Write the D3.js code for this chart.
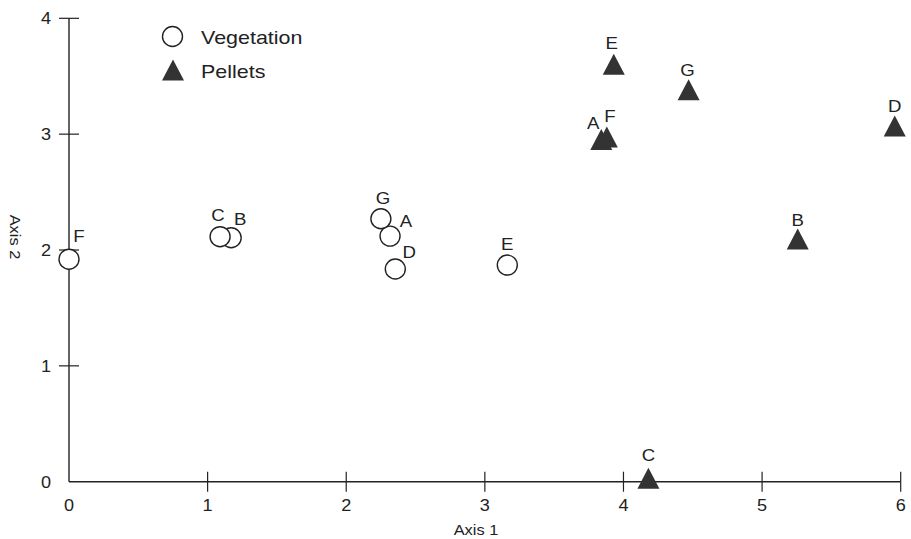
<!DOCTYPE html>
<html><head><meta charset="utf-8">
<script src="https://cdn.jsdelivr.net/npm/d3@7"></script>
<style>
body{margin:0;background:#fff;}
text{font-family:"Liberation Sans",Arial,sans-serif;fill:#222;}
</style></head>
<body><svg id="c" width="911" height="539"></svg>
<script>
const vegLabels = ["A","B","C","D","E","F","G"];
const vegX = [2.316, 1.17, 1.09, 2.354, 3.162, 0.0, 2.25];
const vegY = [2.12, 2.106, 2.115, 1.836, 1.87, 1.92, 2.27];
const pelLabels = ["A","B","C","D","E","F","G"];
const pelX = [3.84, 5.257, 4.18, 5.957, 3.93, 3.88, 4.47];
const pelY = [2.954, 2.095, 0.03, 3.07, 3.604, 2.975, 3.383];
const xTicks = [0,1,2,3,4,5,6];
const yTicks = [0,1,2,3,4];
const seriesNames = ["Vegetation","Pellets"];

// label offsets (layout): label centre relative to marker centre
const vegOff = {A:[16,-15],B:[9,-19],C:[-2,-22],D:[14,-17],E:[0,-21],F:[10,-23],G:[2,-21]};
const pelOff = {A:[-8,-16],B:[0,-19],C:[0,-23],D:[0,-20],E:[-2,-21],F:[3,-21],G:[-1,-20]};

const svg = d3.select("#c");
const x = d3.scaleLinear().domain([0,6]).range([69,900.7]);
const y = d3.scaleLinear().domain([0,4]).range([481.7,18.3]);
const ink = "#222";
const SX = 1.13;

function stext(sel, tx, ty, size, anchor, rot){
  return sel.attr("transform",(d,i)=>`translate(${tx(d,i)},${ty(d,i)})${rot?` rotate(${rot})`:""} scale(${SX},1)`)
    .attr("font-size",size).attr("text-anchor",anchor||"middle");
}

// axes
const gx = svg.append("g");
gx.append("line").attr("x1",x(0)).attr("x2",x(6)).attr("y1",y(0)).attr("y2",y(0)).attr("stroke",ink).attr("stroke-width",1.4);
gx.selectAll("line.t").data(xTicks.filter(d=>d>0)).join("line").attr("class","t")
  .attr("x1",d=>x(d)).attr("x2",d=>x(d)).attr("y1",y(0)-10).attr("y2",y(0)+10).attr("stroke",ink).attr("stroke-width",1.2);
stext(gx.selectAll("text").data(xTicks).join("text"), d=>x(d), ()=>y(0)+29.3, 16).text(d=>d);

const gy = svg.append("g");
gy.append("line").attr("x1",x(0)).attr("x2",x(0)).attr("y1",y(0)).attr("y2",y(4)).attr("stroke",ink).attr("stroke-width",1.4);
gy.selectAll("line.t").data(yTicks.filter(d=>d>0)).join("line").attr("class","t")
  .attr("y1",d=>y(d)).attr("y2",d=>y(d)).attr("x1",x(0)-10).attr("x2",x(0)+10).attr("stroke",ink).attr("stroke-width",1.2);
stext(gy.selectAll("text").data(yTicks).join("text"), ()=>x(0)-18, d=>y(d)+6, 16, "end").text(d=>d);

stext(svg.append("text").datum(0), ()=>476, ()=>535, 14.5).text("Axis 1");
stext(svg.append("text").datum(0), ()=>10, ()=>237, 14.5, "middle", 90).text("Axis 2");

// triangle symbol: width 22, height 21, centred at mid-height
const triType = {draw(ctx){ ctx.moveTo(0,-10.5); ctx.lineTo(11,10.5); ctx.lineTo(-11,10.5); ctx.closePath(); }};
const tri = d3.symbol().type(triType);

const veg = vegLabels.map((l,i)=>({l,x:vegX[i],y:vegY[i]}));
const pel = pelLabels.map((l,i)=>({l,x:pelX[i],y:pelY[i]}));

svg.append("g").selectAll("circle").data(veg).join("circle")
  .attr("cx",d=>x(d.x)).attr("cy",d=>y(d.y)).attr("r",10).attr("fill","#fff").attr("stroke",ink).attr("stroke-width",1.4);
stext(svg.append("g").selectAll("text").data(veg).join("text"),
  d=>x(d.x)+vegOff[d.l][0], d=>y(d.y)+vegOff[d.l][1]+6, 16.5).text(d=>d.l);

svg.append("g").selectAll("path").data(pel).join("path")
  .attr("d",tri).attr("transform",d=>`translate(${x(d.x)},${y(d.y)})`).attr("fill","#333");
stext(svg.append("g").selectAll("text").data(pel).join("text"),
  d=>x(d.x)+pelOff[d.l][0], d=>y(d.y)+pelOff[d.l][1]+6, 16.5).text(d=>d.l);

// legend
const lg = svg.append("g");
lg.append("circle").attr("cx",172.5).attr("cy",36.5).attr("r",10).attr("fill","#fff").attr("stroke",ink).attr("stroke-width",1.4);
lg.append("path").attr("d",tri).attr("transform","translate(173,70)").attr("fill","#333");
stext(lg.selectAll("text").data(seriesNames).join("text"), ()=>201, (d,i)=>36.5+i*34+7, 19, "start").text(d=>d);
</script></body></html>
